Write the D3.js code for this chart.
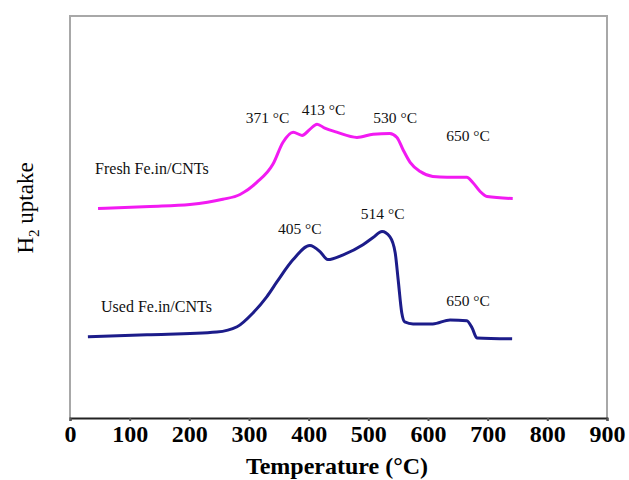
<!DOCTYPE html>
<html>
<head>
<meta charset="utf-8">
<script src="https://cdn.jsdelivr.net/npm/d3@7"></script>
<style>
  body { margin: 0; background: #fff; }
  svg text { font-family: "Liberation Serif", "Times New Roman", serif; }
</style>
</head>
<body>
<div id="chart"></div>
<script>
var width = 629, height = 480;
var margin = { top: 16, right: 22, bottom: 62, left: 70 };

// temperature ticks
const xTicks = [0, 100, 200, 300, 400, 500, 600, 700, 800, 900];

// fresh catalyst TPR profile (T in °C, arbitrary H2 signal)
const freshT = [47, 134, 201, 256, 285, 313, 340, 357, 374, 389, 402, 414, 427, 447, 481, 508, 536, 548, 558, 570, 587, 608, 632, 665, 675, 687, 699, 742];
const freshV = [5.21, 5.26, 5.31, 5.44, 5.56, 5.86, 6.31, 6.86, 7.11, 7.03, 7.18, 7.31, 7.21, 7.11, 6.98, 7.06, 7.08, 6.98, 6.68, 6.36, 6.13, 6.01, 5.99, 5.99, 5.86, 5.64, 5.51, 5.46];

// used catalyst TPR profile
const usedT = [30, 129, 246, 280, 307, 330, 347, 374, 402, 419, 432, 458, 491, 508, 523, 536, 545, 550, 556, 561, 575, 608, 637, 665, 674, 682, 741];
const usedV = [2.02, 2.07, 2.14, 2.27, 2.62, 3.02, 3.39, 3.94, 4.29, 4.14, 3.94, 4.06, 4.31, 4.49, 4.64, 4.51, 4.11, 3.44, 2.62, 2.39, 2.34, 2.34, 2.44, 2.42, 2.24, 1.99, 1.97];

// peak annotations
const freshPeakText = ["371 °C", "413 °C", "530 °C", "650 °C"];
const freshPeakT = [331, 425, 545, 667];
const freshPeakV = [7.34, 7.54, 7.34, 6.89];
const usedPeakText = ["405 °C", "514 °C", "650 °C"];
const usedPeakT = [385, 524, 667];
const usedPeakV = [4.58, 4.95, 2.79];

const seriesNames = ["Fresh Fe.in/CNTs", "Used Fe.in/CNTs"];
const seriesLabelT = [42, 52];
const seriesLabelV = [6.07, 2.64];

var svg = d3.select('#chart').append('svg')
    .attr('width', width)
    .attr('height', height);

var x = d3.scaleLinear()
    .domain([0, 900])
    .range([margin.left, width - margin.right]);

var y = d3.scaleLinear()
    .domain([0, 10])
    .range([height - margin.bottom, margin.top]);

// frame (gray) - top, left, right
svg.append('path')
    .attr('d', 'M' + x(0) + ',' + y(0) + 'V' + y(10) + 'H' + x(900) + 'V' + y(0))
    .attr('fill', 'none')
    .attr('stroke', '#a8a8a8')
    .attr('stroke-width', 2);

// x axis
var xAxis = svg.append('g')
    .attr('transform', 'translate(0,' + y(0) + ')')
    .call(d3.axisBottom(x).tickValues(xTicks).tickSize(3).tickPadding(4));

xAxis.select('.domain').attr('stroke', '#222').attr('stroke-width', 2);
xAxis.selectAll('.tick line').attr('stroke', '#555').attr('stroke-width', 2);
xAxis.selectAll('.tick text')
    .attr('fill', '#000')
    .style('font-family', '"Liberation Serif", serif')
    .style('font-weight', 'bold')
    .style('font-size', '24px');

svg.append('text')
    .attr('x', 337)
    .attr('y', 474)
    .attr('text-anchor', 'middle')
    .style('font-weight', 'bold')
    .style('font-size', '24px')
    .text('Temperature (°C)');

var yl = svg.append('text')
    .attr('transform', 'translate(33,208) rotate(-90)')
    .attr('text-anchor', 'middle')
    .style('font-size', '23px');
yl.append('tspan').text('H');
yl.append('tspan').attr('font-size', '15px').attr('dy', 6).text('2');
yl.append('tspan').attr('dy', -6).text(' uptake');

var line = d3.line()
    .x(d => x(d[0]))
    .y(d => y(d[1]))
    .curve(d3.curveMonotoneX);

svg.append('path')
    .datum(d3.zip(freshT, freshV))
    .attr('fill', 'none')
    .attr('stroke', '#f21af2')
    .attr('stroke-width', 3)
    .attr('d', line);

svg.append('path')
    .datum(d3.zip(usedT, usedV))
    .attr('fill', 'none')
    .attr('stroke', '#1c1c8a')
    .attr('stroke-width', 3)
    .attr('d', line);

function peakLabels(txt, ts, vs) {
    svg.append('g').selectAll('text')
        .data(txt)
        .enter().append('text')
        .attr('x', (d, i) => x(ts[i]))
        .attr('y', (d, i) => y(vs[i]))
        .attr('text-anchor', 'middle')
        .style('font-size', '15.5px')
        .attr('fill', '#111')
        .text(d => d);
}
peakLabels(freshPeakText, freshPeakT, freshPeakV);
peakLabels(usedPeakText, usedPeakT, usedPeakV);

svg.append('g').selectAll('text')
    .data(seriesNames)
    .enter().append('text')
    .attr('x', (d, i) => x(seriesLabelT[i]))
    .attr('y', (d, i) => y(seriesLabelV[i]))
    .style('font-size', '16px')
    .attr('fill', '#111')
    .text(d => d);
</script>
</body>
</html>
